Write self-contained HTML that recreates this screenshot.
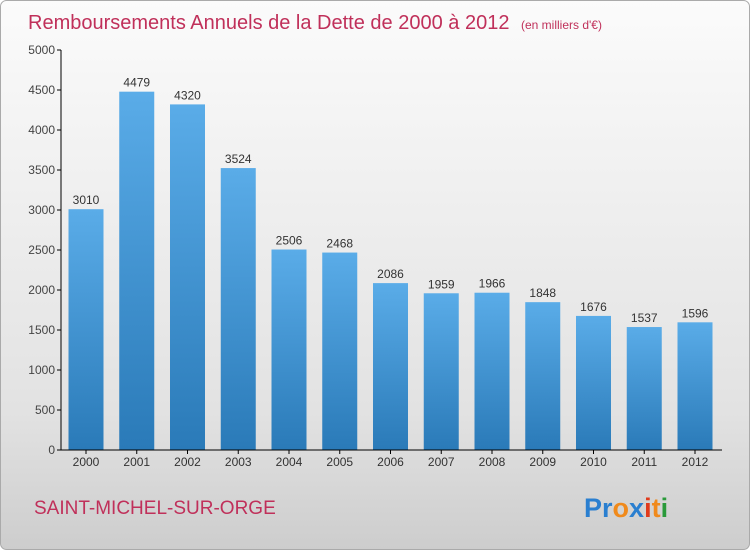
<!DOCTYPE html>
<html><head><meta charset="utf-8"><style>
body{margin:0;width:750px;height:550px;overflow:hidden;font-family:"Liberation Sans",sans-serif}
</style></head><body>
<svg width="750" height="550" xmlns="http://www.w3.org/2000/svg">
<defs>
<linearGradient id="bg" x1="0" y1="0" x2="0" y2="1"><stop offset="0" stop-color="#fbfbfb"/><stop offset="0.75" stop-color="#e2e2e2"/><stop offset="1" stop-color="#cdcdcd"/></linearGradient>
<linearGradient id="bar" x1="0" y1="0" x2="0" y2="1"><stop offset="0" stop-color="#5aace8"/><stop offset="1" stop-color="#2a7ab8"/></linearGradient>
</defs>
<rect x="0.5" y="0.5" width="749" height="549" rx="6" fill="url(#bg)" stroke="#aaa"/>
<text x="28" y="29" font-size="20" fill="#c0305a">Remboursements Annuels de la Dette de 2000 à 2012 <tspan font-size="12" dx="6">(en milliers d'€)</tspan></text>
<g id="plot"></g>
<text x="34" y="514" font-size="19" fill="#c0305a">SAINT-MICHEL-SUR-ORGE</text>
<text x="584" y="517" font-size="27" font-weight="bold"><tspan fill="#2a7fd0">Pr</tspan><tspan fill="#f08a1c">o</tspan><tspan fill="#2a7fd0">x</tspan><tspan fill="#e03a1c">i</tspan><tspan fill="#f08a1c">t</tspan><tspan fill="#2a9a3a">i</tspan></text>
</svg>
<script>
const years=["2000","2001","2002","2003","2004","2005","2006","2007","2008","2009","2010","2011","2012"];
const values=[3010,4479,4320,3524,2506,2468,2086,1959,1966,1848,1676,1537,1596];
const ticks=[0,500,1000,1500,2000,2500,3000,3500,4000,4500,5000];
const NS="http://www.w3.org/2000/svg";
const g=document.getElementById('plot');
const y=v=>450-v*400/5000;
const x=i=>86+i*50.75;
function mk(t,a){const e=document.createElementNS(NS,t);for(const k in a)e.setAttribute(k,a[k]);g.appendChild(e);return e;}
ticks.forEach(t=>{
 const l=mk('line',{x1:57,x2:61,y1:y(t),y2:y(t),stroke:'#000'});
 
 
 const tx=mk('text',{x:55,y:y(t)+4,'text-anchor':'end','font-size':12,fill:'#444'});tx.textContent=t;
 
 
});
values.forEach((v,i)=>{
 const r=mk('rect',{x:x(i)-17.5,y:y(v),width:35,height:450-y(v),fill:'url(#bar)'});
 
 
 const t=mk('text',{x:x(i),y:y(v)-5,'text-anchor':'middle','font-size':12,fill:'#333'});t.textContent=v;
 
 
 const k=mk('line',{x1:x(i),x2:x(i),y1:450,y2:454,stroke:'#000'});
 
 
 const yl=mk('text',{x:x(i),y:466,'text-anchor':'middle','font-size':12,fill:'#333'});yl.textContent=years[i];
 
 
});
const ax=mk('line',{x1:61,x2:61,y1:50,y2:450,stroke:'#000'});


const bx=mk('line',{x1:61,x2:722,y1:450,y2:450,stroke:'#000'});


</script>
</body></html>
